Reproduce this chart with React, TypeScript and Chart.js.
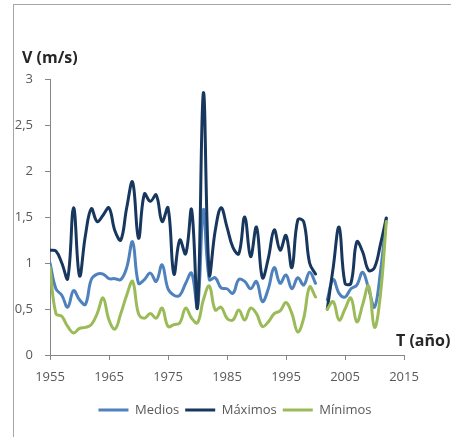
import { useEffect, useRef } from "react";
import { Chart, registerables } from "chart.js";
Chart.register(...registerables);

const years = [
  1955, 1956, 1957, 1958, 1959, 1960, 1961, 1962, 1963, 1964,
  1965, 1966, 1967, 1968, 1969, 1970, 1971, 1972, 1973, 1974,
  1975, 1976, 1977, 1978, 1979, 1980, 1981, 1982, 1983, 1984,
  1985, 1986, 1987, 1988, 1989, 1990, 1991, 1992, 1993, 1994,
  1995, 1996, 1997, 1998, 1999, 2000, 2001, 2002, 2003, 2004,
  2005, 2006, 2007, 2008, 2009, 2010, 2011, 2012,
];

const medios = [
  1.0, 0.72, 0.65, 0.52, 0.7, 0.6, 0.55, 0.82, 0.88, 0.88,
  0.83, 0.83, 0.82, 0.95, 1.23, 0.78, 0.82, 0.89, 0.8, 0.98,
  0.72, 0.65, 0.65, 0.78, 0.89, 0.52, 1.58, 0.82, 0.84, 0.73,
  0.72, 0.67, 0.82, 0.8, 0.72, 0.8, 0.58, 0.72, 0.95, 0.78,
  0.87, 0.72, 0.84, 0.76, 0.9, 0.78, null, 0.6, 0.82, 0.67,
  0.63, 0.72, 0.76, 0.9, 0.72, 0.52, 0.9, 1.48,
];

const maximos = [
  1.14, 1.13, 1.0, 0.83, 1.6, 0.86, 1.3, 1.59, 1.45, 1.52,
  1.6, 1.35, 1.25, 1.6, 1.88, 1.27, 1.75, 1.67, 1.74, 1.45,
  1.6, 0.88, 1.25, 1.1, 1.58, 0.52, 2.85, 0.88, 1.35, 1.6,
  1.39, 1.17, 1.1, 1.5, 1.07, 1.39, 0.84, 1.05, 1.36, 1.14,
  1.3, 0.95, 1.47, 1.45, 1.0, 0.88, null, 0.5, 0.95, 1.39,
  0.78, 0.78, 1.23, 1.12, 0.92, 0.95, 1.2, 1.49,
];

const minimos = [
  0.95, 0.45, 0.42, 0.31, 0.24, 0.29, 0.3, 0.33, 0.45, 0.62,
  0.38, 0.28, 0.45, 0.65, 0.8, 0.45, 0.4, 0.45, 0.4, 0.51,
  0.31, 0.33, 0.35, 0.51, 0.4, 0.35, 0.6, 0.75, 0.49, 0.52,
  0.4, 0.38, 0.49, 0.38, 0.51, 0.45, 0.31, 0.36, 0.45, 0.48,
  0.57, 0.45, 0.25, 0.4, 0.74, 0.63, null, 0.5, 0.58, 0.38,
  0.5, 0.62, 0.36, 0.55, 0.75, 0.3, 0.65, 1.45,
];

const seriesNames = ["Medios", "Máximos", "Mínimos"];
const seriesColors = ["#4F81BD", "#17375E", "#9BBB59"];
const xTickValues = [1955, 1965, 1975, 1985, 1995, 2005, 2015];
const yTickValues = [0, 0.5, 1, 1.5, 2, 2.5, 3];
const yTitle = "V (m/s)";
const xTitle = "T (año)";

export default function App() {
  const ref = useRef<HTMLCanvasElement>(null);

  useEffect(() => {
    if (!ref.current) return;
    const toPts = (vals: (number | null)[]) =>
      years.map((x, i) => ({ x, y: vals[i] }));
    const seriesValues = [medios, maximos, minimos];

    const titlePlugin = {
      id: "axisTitles",
      afterLayout(chart: any) {
        if (chart.legend) {
          chart.legend.left += 8;
          chart.legend.right += 8;
        }
      },
      afterDraw(chart: any) {
        const ctx = chart.ctx;
        ctx.save();
        ctx.font = 'bold 16px "Open Sans"';
        ctx.fillStyle = "#262626";
        ctx.textBaseline = "middle";
        ctx.textAlign = "left";
        ctx.fillText(yTitle, 22, 58);
        ctx.fillText(xTitle, 396, 341);
        ctx.restore();
      },
    };

    const axisColor = "#868686";
    const chart = new Chart(ref.current, {
      type: "line",
      data: {
        datasets: seriesNames.map((name, i) => ({
          label: name,
          data: toPts(seriesValues[i]) as any,
          borderColor: seriesColors[i],
          backgroundColor: seriesColors[i],
          borderWidth: 3,
          pointRadius: 0,
          pointHoverRadius: 0,
          tension: 0.4,
          spanGaps: false,
          fill: false,
          borderCapStyle: "round" as const,
          borderJoinStyle: "round" as const,
          order: 3 - i,
        })),
      },
      options: {
        animation: false,
        responsive: false,
        devicePixelRatio: 1,
        font: { family: '"Open Sans", sans-serif' } as any,
        layout: { padding: { left: 10, right: 47, top: 79, bottom: 10.5 } },
        plugins: {
          tooltip: { enabled: false },
          legend: {
            position: "bottom",
            fullSize: false,
            labels: {
              usePointStyle: true,
              pointStyle: "line",
              pointStyleWidth: 30,
              padding: 6,
              color: "#595959",
              font: { size: 13, family: '"Open Sans", sans-serif' },
              sort: (a: any, b: any) => a.datasetIndex - b.datasetIndex,
            },
          },
        },
        scales: {
          x: {
            type: "linear",
            min: 1955,
            max: 2015,
            afterBuildTicks: (s: any) => {
              s.ticks = xTickValues.map((v) => ({ value: v }));
            },
            afterFit: (s: any) => {
              s.height = 42.5;
            },
            ticks: {
              autoSkip: false,
              maxRotation: 0,
              padding: 9,
              color: "#595959",
              font: { size: 13, family: '"Open Sans", sans-serif' },
              callback: (v: any) => String(v),
            },
            grid: {
              display: true,
              drawOnChartArea: false,
              drawTicks: true,
              tickLength: 5,
              color: axisColor,
            },
            border: { display: true, color: axisColor, width: 1 },
          },
          y: {
            type: "linear",
            min: 0,
            max: 3,
            afterBuildTicks: (s: any) => {
              s.ticks = yTickValues.map((v) => ({ value: v }));
            },
            afterFit: (s: any) => {
              s.width = 40;
            },
            ticks: {
              padding: 12,
              color: "#595959",
              font: { size: 13, family: '"Open Sans", sans-serif' },
              callback: (v: any) => String(v).replace(".", ","),
            },
            grid: {
              display: true,
              drawOnChartArea: false,
              drawTicks: true,
              tickLength: 5,
              color: axisColor,
            },
            border: { display: true, color: axisColor, width: 1 },
          },
        },
      },
      plugins: [titlePlugin],
    });
    return () => chart.destroy();
  }, []);

  return (
    <div
      style={{
        position: "fixed",
        left: 0,
        top: 0,
        width: 451,
        height: 437,
        background: "#fff",
        overflow: "hidden",
      }}
    >
      <div
        style={{
          position: "absolute",
          left: 13,
          top: 4,
          width: 470,
          height: 470,
          border: "1px solid #a6a6a6",
        }}
      />
      <canvas
        ref={ref}
        width={451}
        height={437}
        style={{ position: "absolute", left: 0, top: 0, width: 451, height: 437 }}
      />
    </div>
  );
}
